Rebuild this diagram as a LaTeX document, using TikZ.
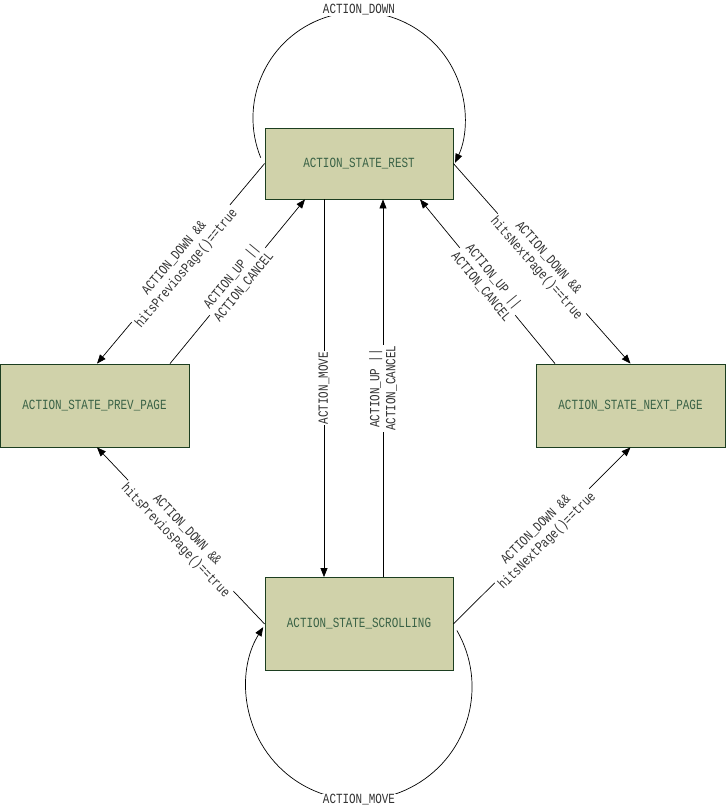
\documentclass[tikz,border=0pt]{standalone}
\usepackage{fontspec}
\usetikzlibrary{arrows.meta}
\newfontfamily\lblfont[FakeStretch=0.78]{Liberation Mono}
\definecolor{boxfill}{RGB}{208,210,170}
\definecolor{boxdraw}{RGB}{28,62,32}
\definecolor{boxtext}{RGB}{58,98,70}
\definecolor{lbltext}{RGB}{50,50,50}
\begin{document}
\begin{tikzpicture}[x=1pt,y=1pt,
  state/.style={draw=boxdraw,fill=boxfill,line width=0.8pt,text=boxtext,
    font=\lblfont\fontsize{14}{16}\selectfont,inner sep=0pt},
  edge/.style={line width=0.7pt,-{Triangle[length=9pt,width=7pt]}},
  lbl/.style={fill=white,inner sep=1pt,text=lbltext,align=center,
    font=\lblfont\fontsize{14}{16}\selectfont}]
\useasboundingbox (0,0) rectangle (726,-810);
% states
\node[state,minimum width=188pt,minimum height=71pt] (rest) at (359,-163.5) {ACTION\_STATE\_REST};
\node[state,minimum width=189pt,minimum height=83pt] (prev) at (94.5,-405.5) {ACTION\_STATE\_PREV\_PAGE};
\node[state,minimum width=189pt,minimum height=83pt] (next) at (630.5,-405.5) {ACTION\_STATE\_NEXT\_PAGE};
\node[state,minimum width=188pt,minimum height=93pt] (scroll) at (359,-624) {ACTION\_STATE\_SCROLLING};
% self loops
\draw[edge] ([shift={(-98.3,5.8)}]rest.center) arc[start angle=202,end angle=-25,radius=106pt];
\node[lbl] (ldown) at (359,-10) {ACTION\_DOWN};
\draw[edge] ([shift={(97.9,-6.5)}]scroll.center) arc[start angle=30,end angle=-212,radius=113pt];
\node[lbl] (lmove) at (359,-800) {ACTION\_MOVE};
% vertical edges
\draw[edge] ([xshift=-35pt]rest.south) -- node[lbl,rotate=90] {ACTION\_MOVE} ([xshift=-35pt]scroll.north);
\draw[edge] ([xshift=24pt]scroll.north) -- node[lbl,rotate=90] {ACTION\_UP ||\\ACTION\_CANCEL} ([xshift=24pt]rest.south);
% diagonal edges
\draw[edge] (rest.west) -- node[lbl,sloped] {ACTION\_DOWN \&\&\\hitsPreviosPage()==true} ([xshift=2.5pt]prev.north);
\draw[edge] ([xshift=75.5pt]prev.north) -- node[lbl,sloped] {ACTION\_UP ||\\ACTION\_CANCEL} ([xshift=-54pt]rest.south);
\draw[edge] (rest.east) -- node[lbl,sloped] {ACTION\_DOWN \&\&\\hitsNextPage()==true} (next.north);
\draw[edge] ([xshift=-75.5pt]next.north) -- node[lbl,sloped] {ACTION\_UP ||\\ACTION\_CANCEL} ([xshift=61pt]rest.south);
\draw[edge] (scroll.west) -- node[lbl,sloped] {ACTION\_DOWN \&\&\\hitsPreviosPage()==true} ([xshift=2.5pt]prev.south);
\draw[edge] (scroll.east) -- node[lbl,sloped] {ACTION\_DOWN \&\&\\hitsNextPage()==true} (next.south);
\end{tikzpicture}
\end{document}
